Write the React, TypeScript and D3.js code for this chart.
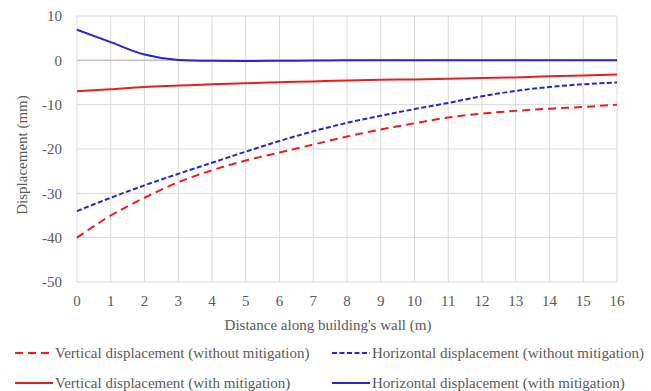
import React, { useEffect, useRef } from 'react'
import * as d3 from 'd3'

const xs = [0, 1, 2, 3, 4, 5, 6, 7, 8, 9, 10, 11, 12, 13, 14, 15, 16]
const vertNoMit = [-40, -35, -31, -27.5, -24.8, -22.6, -20.8, -19, -17.2, -15.6, -14.2, -12.9, -12, -11.4, -10.9, -10.5, -10]
const horNoMit = [-34, -31, -28.2, -25.6, -23.1, -20.6, -18.2, -16, -14.1, -12.5, -11, -9.6, -8.1, -6.9, -6, -5.4, -5]
const vertMit = [-7, -6.5, -6, -5.7, -5.4, -5.15, -4.95, -4.75, -4.55, -4.4, -4.3, -4.15, -4, -3.85, -3.6, -3.4, -3.2]
const horMit = [6.9, 4.1, 1.3, 0.1, -0.1, -0.15, -0.1, -0.05, 0, 0, 0, 0, 0, 0, 0, 0, 0]
const yTicks = [10, 0, -10, -20, -30, -40, -50]

const series = [
  { name: 'Vertical displacement (without mitigation)', values: vertNoMit, color: '#ee1c1c', dash: '8,5' },
  { name: 'Horizontal displacement (without mitigation)', values: horNoMit, color: '#2a22d8', dash: '5,2.5' },
  { name: 'Vertical displacement (with mitigation)', values: vertMit, color: '#ee1c1c', dash: null },
  { name: 'Horizontal displacement (with mitigation)', values: horMit, color: '#2a22d8', dash: null },
]

const App = () => {
  const svgRef = useRef<SVGSVGElement>(null)
  useEffect(() => {
    const w = 651
    const h = 391
    const svg = d3.select(svgRef.current)
    svg.selectAll('*').remove()
    svg.attr('width', w).attr('height', h).style('display', 'block').style('background', '#fff')
      .style('font-family', '"Liberation Serif", "Times New Roman", serif')
    const gray = '#595959'

    const x = d3.scaleLinear().domain([0, 16]).range([77, 617])
    const y = d3.scaleLinear().domain([-50, 10]).range([282, 16])

    // grid
    svg.append('g').selectAll('line').data(xs).join('line')
      .attr('x1', d => x(d)).attr('x2', d => x(d))
      .attr('y1', y(10)).attr('y2', y(-50))
      .attr('stroke', '#d9d9d9').attr('stroke-width', 1)
    svg.append('g').selectAll('line').data(yTicks).join('line')
      .attr('x1', x(0)).attr('x2', x(16))
      .attr('y1', d => y(d)).attr('y2', d => y(d))
      .attr('stroke', d => d === 0 ? '#bfbfbf' : '#d9d9d9').attr('stroke-width', d => d === 0 ? 1.5 : 1)

    // tick labels
    svg.append('g').selectAll('text').data(yTicks).join('text')
      .attr('x', 62).attr('y', d => y(d)).attr('dy', '0.35em')
      .attr('text-anchor', 'end').attr('font-size', 15).attr('fill', gray)
      .text(d => d)
    svg.append('g').selectAll('text').data(xs).join('text')
      .attr('x', d => x(d)).attr('y', 301).attr('dy', '0.35em')
      .attr('text-anchor', 'middle').attr('font-size', 15).attr('fill', gray)
      .text(d => d)

    svg.append('text').attr('x', 328).attr('y', 325).attr('dy', '0.35em')
      .attr('text-anchor', 'middle').attr('font-size', 15).attr('fill', gray)
      .text("Distance along building's wall (m)")
    svg.append('text').attr('transform', 'translate(22,155) rotate(-90)').attr('dy', '0.35em')
      .attr('text-anchor', 'middle').attr('font-size', 15).attr('fill', gray)
      .text('Displacement (mm)')

    const line = d3.line<number>()
      .x((d, i) => x(xs[i]))
      .y(d => y(d))
      .curve(d3.curveMonotoneX)

    svg.append('g').selectAll('path').data(series).join('path')
      .attr('d', d => line(d.values))
      .attr('fill', 'none')
      .attr('stroke', d => d.color)
      .attr('stroke-width', 2)
      .attr('stroke-dasharray', d => d.dash)

    // legend
    const pos = [[15, 353], [332, 353], [15, 383], [332, 383]]
    const leg = svg.append('g').selectAll('g').data(series).join('g')
      .attr('transform', (d, i) => `translate(${pos[i][0]},${pos[i][1]})`)
    leg.append('line').attr('x1', 0).attr('x2', 38).attr('y1', 0).attr('y2', 0)
      .attr('stroke', d => d.color).attr('stroke-width', 2).attr('stroke-dasharray', d => d.dash)
    leg.append('text').attr('x', 40).attr('y', 0).attr('dy', '0.35em')
      .attr('font-size', 15).attr('fill', gray)
      .text(d => d.name)
  }, [])

  return <svg ref={svgRef} style={{ position: 'absolute', left: 0, top: 0 }}></svg>
}

export default App
